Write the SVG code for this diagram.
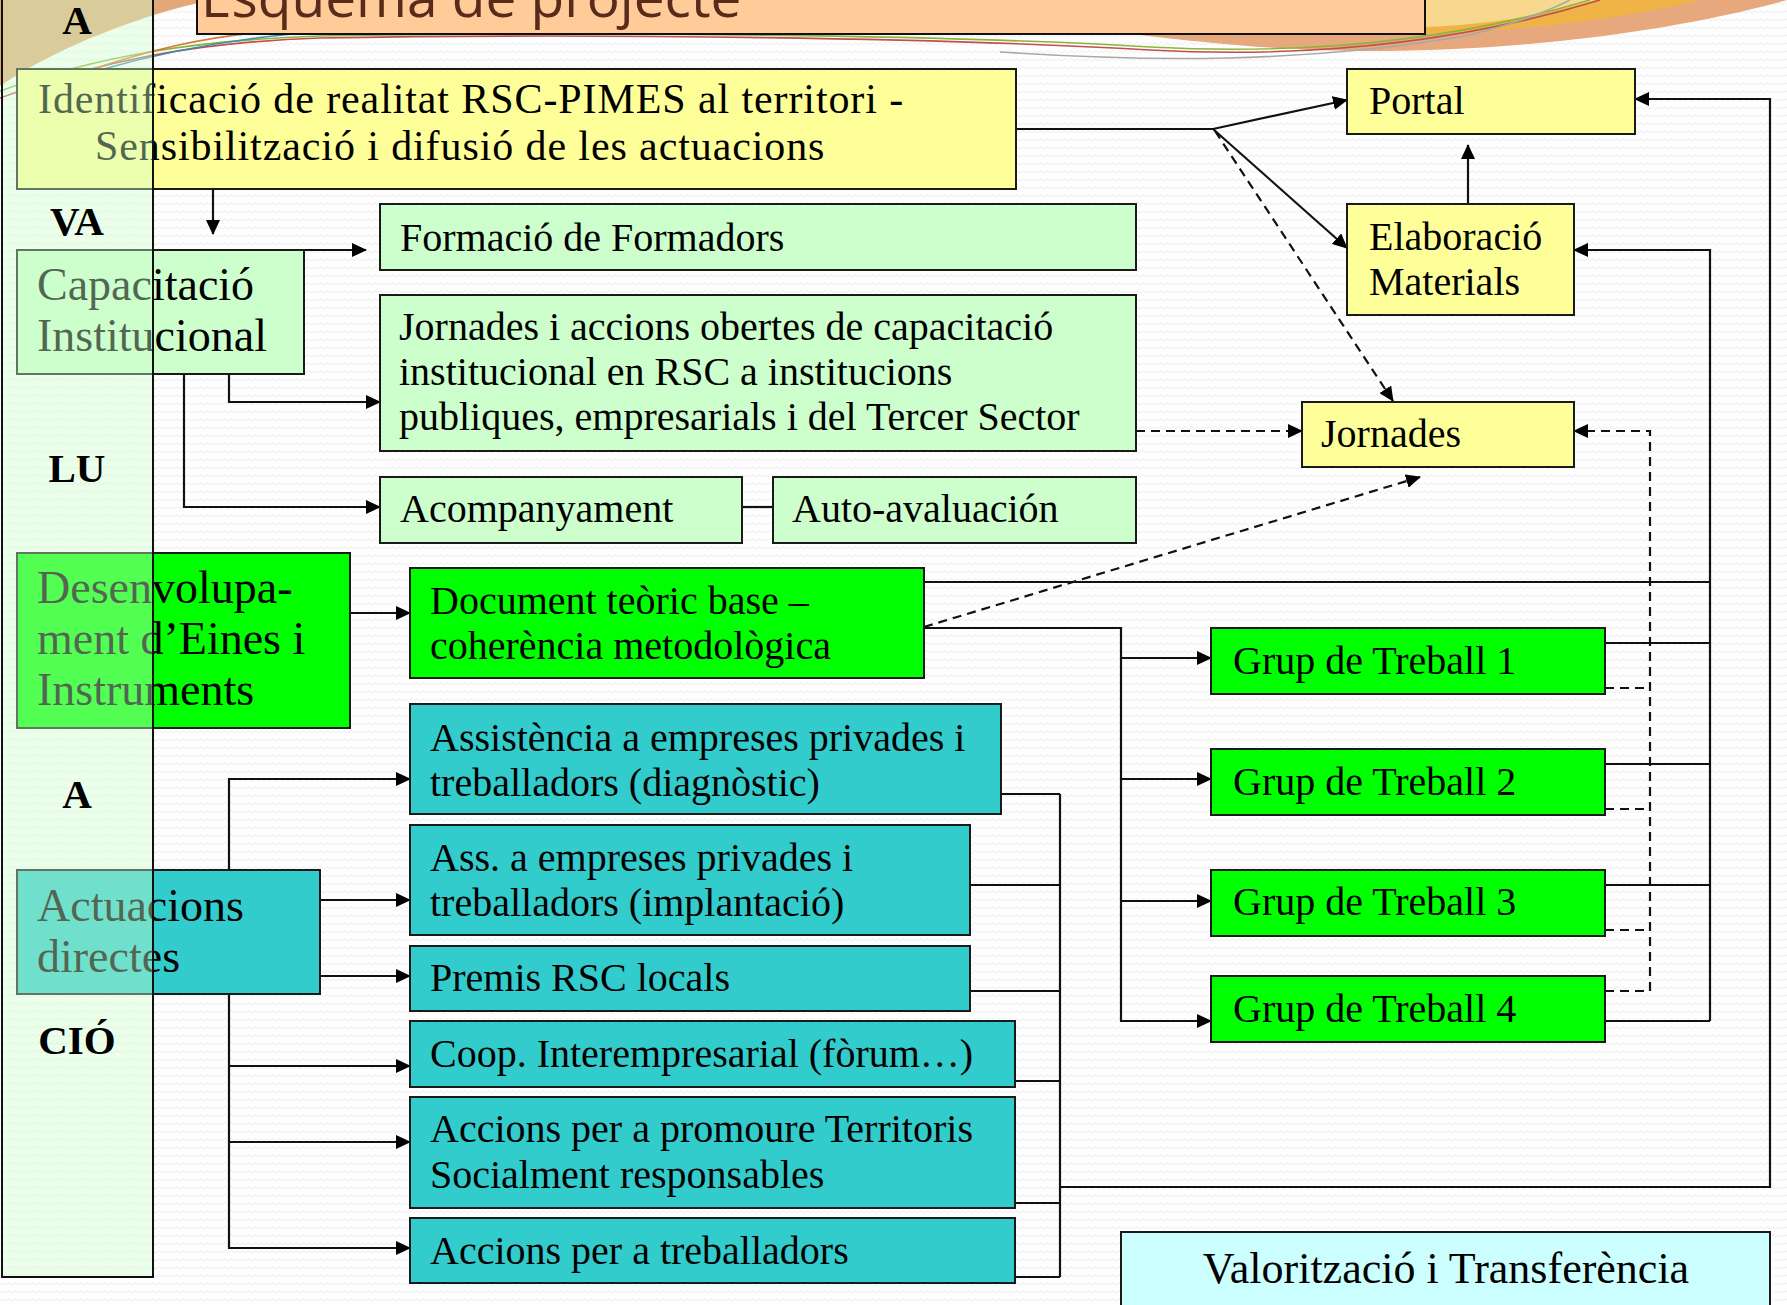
<svg xmlns="http://www.w3.org/2000/svg" width="1787" height="1305" viewBox="0 0 1787 1305">
<defs>
<pattern id="bg" width="12" height="8" patternUnits="userSpaceOnUse">
<rect width="12" height="8" fill="#ffffff"/>
<path d="M0,5 L3,2.5 L6,5 L9,2.5 L12,5" fill="none" stroke="#ececec" stroke-width="1"/>
</pattern>
<marker id="ah" markerUnits="userSpaceOnUse" markerWidth="15" markerHeight="14" refX="14" refY="7" orient="auto">
<path d="M0,0 L15,7 L0,14 Z" fill="#000"/>
</marker>
</defs>
<style>
.box{stroke:#1a1a1a;stroke-width:2}
.yel{fill:#FFFF99}
.lgr{fill:#CCFFCC}
.grn{fill:#00FF00}
.teal{fill:#33CCCC}
.cyan{fill:#CCFFFF}
.t{font-family:"Liberation Serif","Times New Roman",serif;font-size:40px;fill:#000}
.tl{font-size:46px}
.tm{font-size:44px}
.ti{font-size:42px;letter-spacing:0.9px}
.col{font-family:"Liberation Serif","Times New Roman",serif;font-size:41px;font-weight:bold;fill:#000;text-anchor:middle}
.c{fill:none;stroke:#111;stroke-width:2.2}
.a{marker-end:url(#ah)}
.d{stroke-dasharray:9 6}
.sw{fill:none;stroke-width:1.6}
</style>
<rect x="0" y="0" width="1787" height="1305" fill="url(#bg)"/>
<g id="decoration">
<path d="M0,0 H212 C150,12 60,45 0,86 Z" fill="#E2A878"/>
<path d="M1140,0 L1787,0 C1680,30 1520,52 1360,51 C1270,50 1200,42 1140,35 Z" fill="#E6A87C"/>
<path d="M1300,0 L1700,0 C1640,15 1560,28 1425,34 L1300,34 Z" fill="#EFB347"/>
<path d="M1300,0 L1595,0 C1540,17 1480,25 1425,27 L1300,27 Z" fill="#F8D88E"/>
<path class="sw" stroke="#C0504D" d="M0,98 C100,60 200,42 320,38 C600,33 950,38 1150,50 C1300,58 1450,46 1600,0"/>
<path class="sw" stroke="#8DB43A" d="M0,91 C100,55 200,40 320,36 C600,31 950,35 1150,47 C1300,55 1450,42 1590,0"/>
<path class="sw" stroke="#D07A3A" d="M90,70 C150,50 200,38 262,32"/>
<path class="sw" stroke="#3A8FB0" d="M100,70 C170,50 230,40 292,34"/>
<path class="sw" stroke="#A8A8A8" d="M1000,52 C1150,62 1300,63 1460,37 C1500,28 1540,15 1570,0"/>
</g>
<g id="title">
<rect x="197" y="-10" width="1228" height="44" fill="#FFCC99" stroke="#111" stroke-width="2"/>
<text x="201" y="17" font-family="'Open Sans',sans-serif" font-size="55" fill="#5A2A1A">Esquema de projecte</text>
</g>
<g id="connectors">
<path class="c" d="M1016,129 H1213"/>
<path class="c a" d="M1213,129 L1347,100"/>
<path class="c a" d="M1213,129 L1347,248"/>
<path class="c a d" d="M1215,131 L1393,401"/>
<path class="c a" d="M1468,204 V145"/>
<path class="c a" d="M213,189 V234"/>
<path class="c a" d="M304,250 H366"/>
<path class="c a" d="M229,374 V402 H380"/>
<path class="c a" d="M184,374 V507 H380"/>
<path class="c" d="M742,507 H773"/>
<path class="c a" d="M350,613 H410"/>
<path class="c a" d="M229,870 V779 H410"/>
<path class="c a" d="M320,900 H410"/>
<path class="c a" d="M320,976 H410"/>
<path class="c a" d="M229,994 V1248 H410"/>
<path class="c a" d="M229,1066 H410"/>
<path class="c a" d="M229,1142 H410"/>
<path class="c" d="M1001,794 H1060 M970,885 H1060 M970,991 H1060 M1015,1081 H1060 M1015,1203 H1060 M1015,1277 H1060 M1060,794 V1277"/>
<path class="c a" d="M1060,1187 H1770 V99 H1635"/>
<path class="c" d="M924,582 H1710 M1605,643 H1710 M1605,764 H1710 M1605,885 H1710 M1605,1021 H1710"/>
<path class="c a" d="M1710,1021 V250 H1574"/>
<path class="c a" d="M924,628 H1121 V1021 H1211"/>
<path class="c a" d="M1121,658 H1211"/>
<path class="c a" d="M1121,779 H1211"/>
<path class="c a" d="M1121,901 H1211"/>
<path class="c a d" d="M924,627 L1420,477"/>
<path class="c a d" d="M1136,431 H1302"/>
<path class="c d" d="M1605,688 H1650 M1605,809 H1650 M1605,930 H1650 M1605,991 H1650"/>
<path class="c a d" d="M1650,991 V431 H1574"/>
</g>
<g id="n_identificacio">
<rect class="box yel" x="17" y="69" width="999" height="120"/>
<text class="t ti" x="38" y="113">Identificació de realitat RSC-PIMES al territori -</text>
<text class="t ti" x="95" y="160">Sensibilització i difusió de les actuacions</text>
</g>
<g id="n_formacio">
<rect class="box lgr" x="380" y="204" width="756" height="66"/>
<text class="t" x="400" y="251">Formació de Formadors</text>
</g>
<g id="n_capacitacio">
<rect class="box lgr" x="17" y="250" width="287" height="124"/>
<text class="t tl" x="37" y="300">Capacitació</text>
<text class="t tl" x="37" y="351">Institucional</text>
</g>
<g id="n_jornades_accions">
<rect class="box lgr" x="380" y="295" width="756" height="156"/>
<text class="t" x="399" y="340">Jornades i accions obertes de capacitació</text>
<text class="t" x="399" y="385">institucional en RSC a institucions</text>
<text class="t" x="399" y="430">publiques, empresarials i del Tercer Sector</text>
</g>
<g id="n_acompanyament">
<rect class="box lgr" x="380" y="477" width="362" height="66"/>
<text class="t" x="400" y="522">Acompanyament</text>
</g>
<g id="n_autoavaluacion">
<rect class="box lgr" x="773" y="477" width="363" height="66"/>
<text class="t" x="792" y="522">Auto-avaluación</text>
</g>
<g id="n_desenvolupament">
<rect class="box grn" x="17" y="553" width="333" height="175"/>
<text class="t tl" x="37" y="603">Desenvolupa-</text>
<text class="t tl" x="37" y="654">ment d’Eines i</text>
<text class="t tl" x="37" y="705">Instruments</text>
</g>
<g id="n_document">
<rect class="box grn" x="410" y="568" width="514" height="110"/>
<text class="t" x="430" y="614">Document teòric base –</text>
<text class="t" x="430" y="659">coherència metodològica</text>
</g>
<g id="n_assistencia">
<rect class="box teal" x="410" y="704" width="591" height="110"/>
<text class="t" x="430" y="751">Assistència a empreses privades i</text>
<text class="t" x="430" y="796">treballadors (diagnòstic)</text>
</g>
<g id="n_implantacio">
<rect class="box teal" x="410" y="825" width="560" height="110"/>
<text class="t" x="430" y="871">Ass. a empreses privades i</text>
<text class="t" x="430" y="916">treballadors (implantació)</text>
</g>
<g id="n_premis">
<rect class="box teal" x="410" y="946" width="560" height="65"/>
<text class="t" x="430" y="991">Premis RSC locals</text>
</g>
<g id="n_coop">
<rect class="box teal" x="410" y="1021" width="605" height="66"/>
<text class="t" x="430" y="1067">Coop. Interempresarial (fòrum…)</text>
</g>
<g id="n_territoris">
<rect class="box teal" x="410" y="1097" width="605" height="111"/>
<text class="t" x="430" y="1142">Accions per a promoure Territoris</text>
<text class="t" x="430" y="1188">Socialment responsables</text>
</g>
<g id="n_treballadors">
<rect class="box teal" x="410" y="1218" width="605" height="65"/>
<text class="t" x="430" y="1264">Accions per a treballadors</text>
</g>
<g id="n_actuacions">
<rect class="box teal" x="17" y="870" width="303" height="124"/>
<text class="t tl" x="37" y="921">Actuacions</text>
<text class="t tl" x="37" y="972">directes</text>
</g>
<g id="n_portal">
<rect class="box yel" x="1347" y="69" width="288" height="65"/>
<text class="t" x="1369" y="114">Portal</text>
</g>
<g id="n_elaboracio">
<rect class="box yel" x="1347" y="204" width="227" height="111"/>
<text class="t" x="1369" y="250">Elaboració</text>
<text class="t" x="1369" y="295">Materials</text>
</g>
<g id="n_jornades">
<rect class="box yel" x="1302" y="402" width="272" height="65"/>
<text class="t" x="1321" y="447">Jornades</text>
</g>
<g id="n_grup1">
<rect class="box grn" x="1211" y="628" width="394" height="66"/>
<text class="t" x="1233" y="674">Grup de Treball 1</text>
</g>
<g id="n_grup2">
<rect class="box grn" x="1211" y="749" width="394" height="66"/>
<text class="t" x="1233" y="795">Grup de Treball 2</text>
</g>
<g id="n_grup3">
<rect class="box grn" x="1211" y="870" width="394" height="66"/>
<text class="t" x="1233" y="915">Grup de Treball 3</text>
</g>
<g id="n_grup4">
<rect class="box grn" x="1211" y="976" width="394" height="66"/>
<text class="t" x="1233" y="1022">Grup de Treball 4</text>
</g>
<g id="n_valoritzacio">
<rect class="box cyan" x="1121" y="1232" width="649" height="90"/>
<text class="t tm" x="1446" y="1283" text-anchor="middle">Valorització i Transferència</text>
</g>
<g id="n_avaluacio_column">
<rect x="2" y="-5" width="151" height="1282" fill="#CCFFCC" fill-opacity="0.4" stroke="#111" stroke-width="2"/>
<text class="col" x="77" y="34" font-size="38">A</text>
<text class="col" x="77" y="235">VA</text>
<text class="col" x="77" y="482">LU</text>
<text class="col" x="77" y="808">A</text>
<text class="col" x="77" y="1054">CIÓ</text>
</g>
</svg>
